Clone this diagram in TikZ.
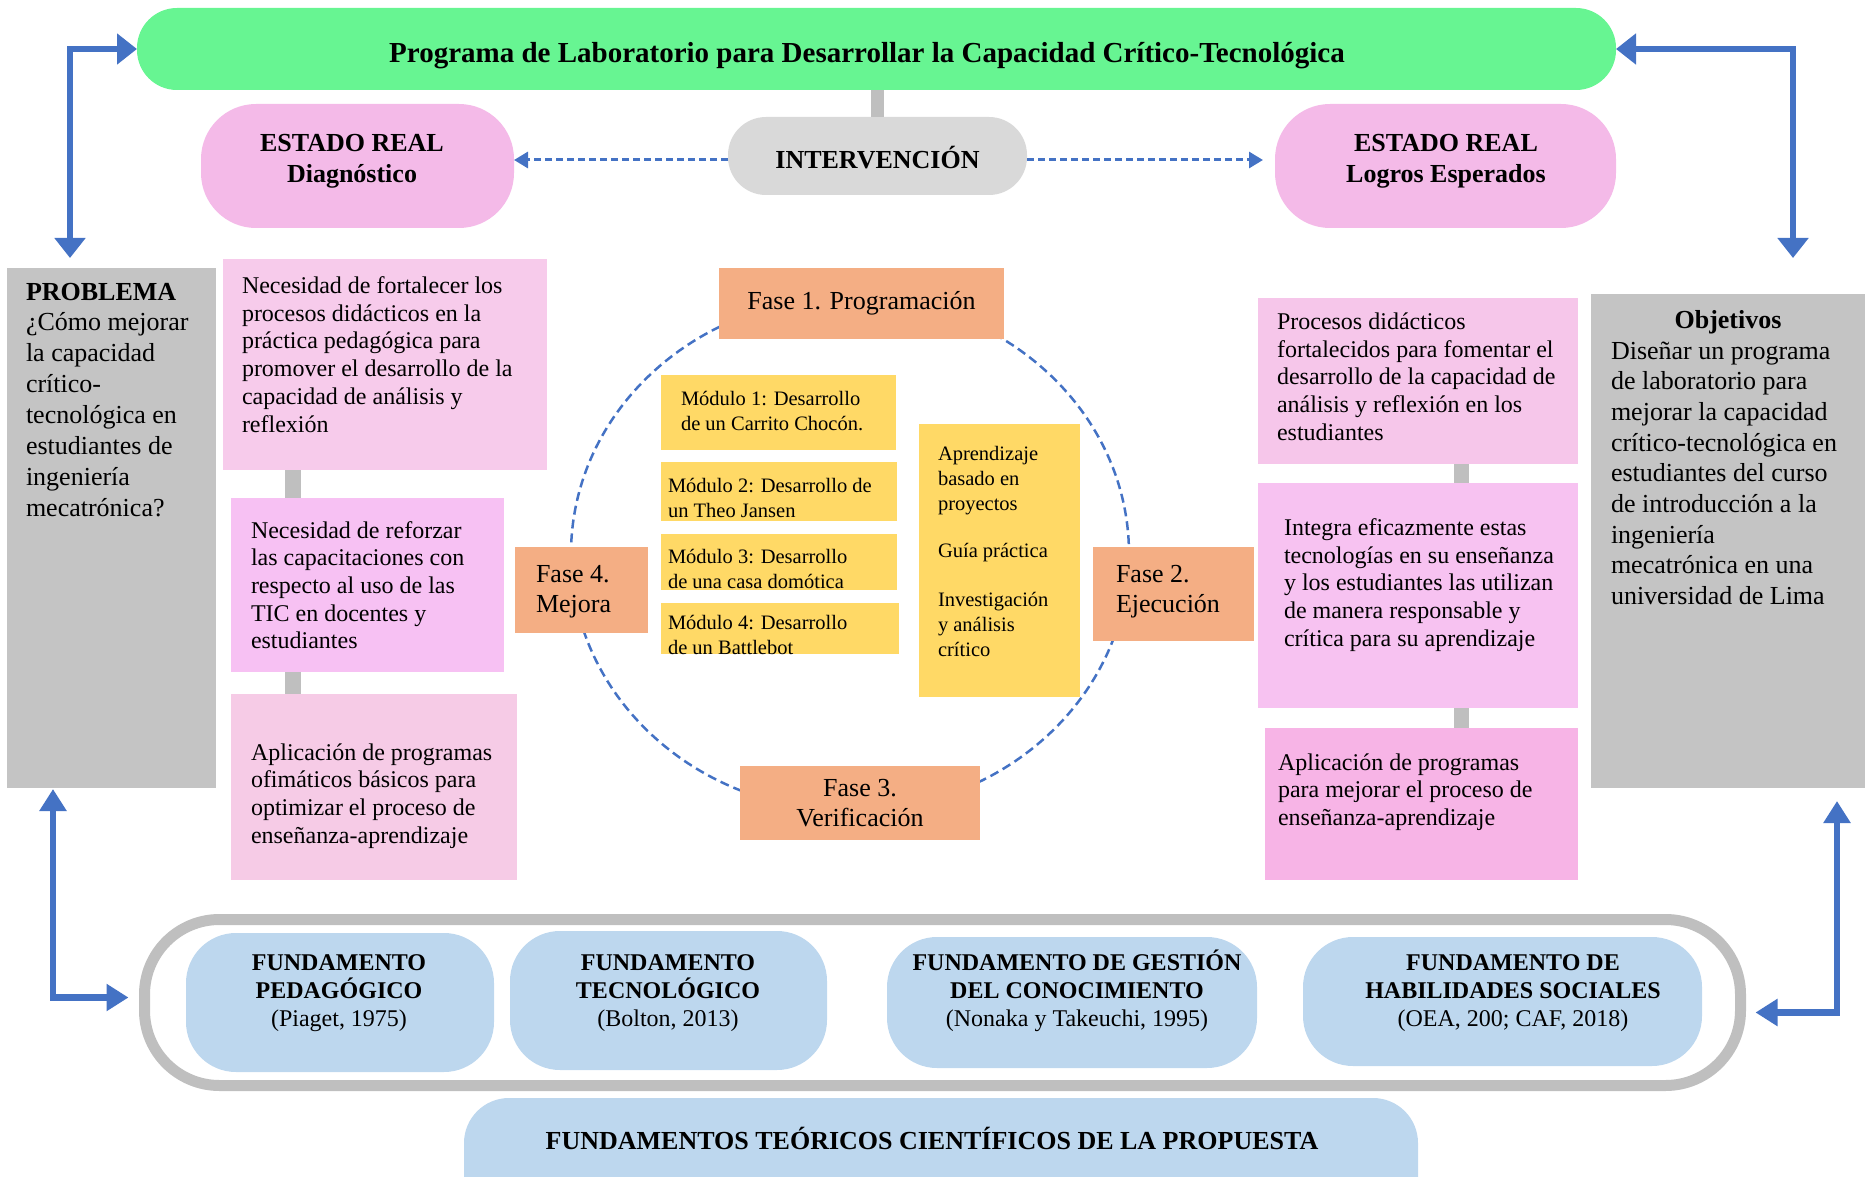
\documentclass[tikz,border=0pt]{standalone}
\usepackage{fontspec}
\setmainfont{Liberation Serif}
\usetikzlibrary{arrows.meta}
\definecolor{cgreen}{RGB}{103,245,146}
\definecolor{cpinktop}{RGB}{244,186,232}
\definecolor{cgrayi}{RGB}{217,217,217}
\definecolor{cgrayb}{RGB}{196,196,196}
\definecolor{cconn}{RGB}{191,191,191}
\definecolor{cla}{RGB}{247,203,235}
\definecolor{clb}{RGB}{247,193,243}
\definecolor{clc}{RGB}{246,203,230}
\definecolor{cra}{RGB}{246,198,234}
\definecolor{crb}{RGB}{247,194,241}
\definecolor{crc}{RGB}{247,180,230}
\definecolor{csalmon}{RGB}{244,174,132}
\definecolor{cyellow}{RGB}{255,217,102}
\definecolor{cbluef}{RGB}{189,215,238}
\definecolor{cbluea}{RGB}{68,114,196}
\begin{document}
\begin{tikzpicture}[x=1pt,y=-1pt,
  box/.style={inner sep=0pt, outer sep=0pt, draw=none},
  txt/.style={inner sep=0pt, outer sep=0pt, anchor=base west, align=left, font=\fontsize{24}{27.7}\selectfont},
  btxt/.style={inner sep=0pt, outer sep=0pt, anchor=base, align=center, font=\bfseries\fontsize{26}{30.5}\selectfont},
  ftxt/.style={inner sep=0pt, outer sep=0pt, anchor=base, align=center, font=\fontsize{24}{28}\selectfont},
  mtxt/.style={inner sep=0pt, outer sep=0pt, anchor=base west, align=left, font=\fontsize{20.5}{25}\selectfont},
  fase/.style={box, fill=csalmon, font=\fontsize{26}{30.5}\selectfont},
  fasetxt/.style={inner sep=0pt, outer sep=0pt, anchor=base west, align=left, font=\fontsize{26}{30.5}\selectfont},
  gconn/.style={draw=cconn},
  bigarr/.style={draw=cbluea, line width=6.5pt, {Triangle[width=30pt,length=20pt]}-{Triangle[width=30pt,length=20pt]}},
  bigarrb/.style={draw=cbluea, line width=6.5pt, {Triangle[width=26pt,length=22pt]}-{Triangle[width=26pt,length=22pt]}},
  dasharr/.style={draw=cbluea, line width=3pt, dash pattern=on 7pt off 4pt, -{Triangle[width=16pt,length=14pt]}},
  cyc/.style={draw=cbluea, line width=2.5pt, dash pattern=on 9pt off 5pt}
]
\useasboundingbox (0,0) rectangle (1874,1177);
\clip (0,0) rectangle (1874,1177);

% top row
\node[box, fill=cgreen, minimum width=1479pt, minimum height=82pt, rounded corners=40pt] (title) at (876.5,49) {};
\node[inner sep=0pt, anchor=base, font=\bfseries\fontsize{29}{33}\selectfont] (titletxt) at (867,63) {Programa de Laboratorio para Desarrollar la Capacidad Crítico-Tecnológica};

\node[box, fill=cgrayi, minimum width=299pt, minimum height=78pt, rounded corners=38pt] (inter) at (877.5,156) {};
\node[btxt] (intertxt) at (877.5,168.5) {INTERVENCIÓN};

\node[box, fill=cpinktop, minimum width=313pt, minimum height=124pt, rounded corners=55pt] (diag) at (357.5,166) {};
\node[btxt] (diagtxt) at (352,182.5) {ESTADO REAL\\Diagnóstico};

\node[box, fill=cpinktop, minimum width=341pt, minimum height=124pt, rounded corners=55pt] (logros) at (1445.5,166) {};
\node[btxt] (logrostxt) at (1446,182.5) {ESTADO REAL\\Logros Esperados};

\draw[gconn, line width=13pt] (title.south -| inter.north) -- (inter.north);
\draw[dasharr, transform canvas={yshift=-4pt}] (inter.west) -- (diag.east |- inter.west);
\draw[dasharr, shorten >=12pt, transform canvas={yshift=-4pt}] (inter.east) -- (logros.west |- inter.east);

% side boxes
\node[box, fill=cgrayb, minimum width=209pt, minimum height=520pt] (prob) at (111.5,528) {};
\node[txt, font=\fontsize{26}{30.9}\selectfont] (probtxt) at (26,516.3) {{\bfseries PROBLEMA}\\¿Cómo mejorar\\la capacidad\\crítico-\\tecnológica en\\estudiantes de\\ingeniería\\mecatrónica?};

\node[box, fill=cgrayb, minimum width=274pt, minimum height=494pt] (obj) at (1728,541) {};
\node[btxt] (objhead) at (1728,328) {Objetivos};
\node[txt, font=\fontsize{26}{30.7}\selectfont] (objtxt) at (1611,604.6) {Diseñar un programa\\de laboratorio para\\mejorar la capacidad\\crítico-tecnológica en\\estudiantes del curso\\de introducción a la\\ingeniería\\mecatrónica en una\\universidad de Lima};

% left pink boxes
\node[box, fill=cla, minimum width=324pt, minimum height=211pt] (la) at (385,364.5) {};
\node[box, fill=clb, minimum width=273pt, minimum height=174pt] (lb) at (367.5,585) {};
\node[box, fill=clc, minimum width=286pt, minimum height=186pt] (lc) at (374,787) {};
\coordinate (cl) at (293,0);
\draw[gconn, line width=16pt] (la.south -| cl) -- (lb.north -| cl);
\draw[gconn, line width=16pt] (lb.south -| cl) -- (lc.north -| cl);
\node[txt] (latxt) at (242,432) {Necesidad de fortalecer los\\procesos didácticos en la\\práctica pedagógica para\\promover el desarrollo de la\\capacidad de análisis y\\reflexión};
\node[txt] (lbtxt) at (251,648.8) {Necesidad de reforzar\\las capacitaciones con\\respecto al uso de las\\TIC en docentes y\\estudiantes};
\node[txt] (lctxt) at (251,843.1) {Aplicación de programas\\ofimáticos básicos para\\optimizar el proceso de\\enseñanza-aprendizaje};

% right pink boxes
\node[box, fill=cra, minimum width=320pt, minimum height=166pt] (ra) at (1418,381) {};
\node[box, fill=crb, minimum width=320pt, minimum height=225pt] (rb) at (1418,595.5) {};
\node[box, fill=crc, minimum width=313pt, minimum height=152pt] (rc) at (1421.5,804) {};
\coordinate (cr) at (1461.5,0);
\draw[gconn, line width=15pt] (ra.south -| cr) -- (rb.north -| cr);
\draw[gconn, line width=15pt] (rb.south -| cr) -- (rc.north -| cr);
\node[txt] (ratxt) at (1277,440.3) {Procesos didácticos\\fortalecidos para fomentar el\\desarrollo de la capacidad de\\análisis y reflexión en los\\estudiantes};
\node[txt] (rbtxt) at (1284,646.3) {Integra eficazmente estas\\tecnologías en su enseñanza\\y los estudiantes las utilizan\\de manera responsable y\\crítica para su aprendizaje};
\node[txt] (rctxt) at (1278,825.4) {Aplicación de programas\\para mejorar el proceso de\\enseñanza-aprendizaje};

% cycle
\draw[cyc] (850,554) ellipse [x radius=279, y radius=257];
\node[fase, minimum width=285pt, minimum height=71pt, align=center] (f1) at (861.5,303.5) {Fase 1. Programación};
\node[fase, minimum width=161pt, minimum height=94pt] (f2) at (1173.5,594) {};
\node[fasetxt] (f2txt) at (1116,612.5) {Fase 2.\\Ejecución};
\node[fase, minimum width=240pt, minimum height=74pt, align=center] (f3) at (860,803) {Fase 3.\\Verificación};
\node[fase, minimum width=133pt, minimum height=86pt] (f4) at (581.5,590) {};
\node[fasetxt] (f4txt) at (536,612.5) {Fase 4.\\Mejora};

\node[box, fill=cyellow, minimum width=235pt, minimum height=75pt] (m1) at (778.5,412.5) {};
\node[box, fill=cyellow, minimum width=236pt, minimum height=59pt] (m2) at (779,491.5) {};
\node[box, fill=cyellow, minimum width=236pt, minimum height=56pt] (m3) at (779,562) {};
\node[box, fill=cyellow, minimum width=238pt, minimum height=51pt] (m4) at (780,628.5) {};
\node[box, fill=cyellow, minimum width=161pt, minimum height=273pt] (m5) at (999.5,560.5) {};
\node[mtxt] (m1txt) at (681,430) {Módulo 1: Desarrollo\\de un Carrito Chocón.};
\node[mtxt] (m2txt) at (668,517) {Módulo 2: Desarrollo de\\un Theo Jansen};
\node[mtxt] (m3txt) at (668,588) {Módulo 3: Desarrollo\\de una casa domótica};
\node[mtxt] (m4txt) at (668,654) {Módulo 4: Desarrollo\\de un Battlebot};
\node[mtxt] (m5txt) at (938,656) {Aprendizaje\\basado en\\proyectos\\[22pt]Guía práctica\\[24pt]Investigación\\y análisis\\crítico};

% bottom
\node[box, draw=cconn, line width=11pt, minimum width=1596pt, minimum height=166pt, rounded corners=75pt] (base) at (942.5,1002.5) {};
\node[box, fill=cbluef, minimum width=308pt, minimum height=139pt, rounded corners=50pt] (fa) at (340,1002.5) {};
\node[box, fill=cbluef, minimum width=317pt, minimum height=139pt, rounded corners=50pt] (fb) at (668.5,1000.5) {};
\node[box, fill=cbluef, minimum width=370pt, minimum height=131pt, rounded corners=50pt] (fc) at (1072,1002.5) {};
\node[box, fill=cbluef, minimum width=399pt, minimum height=129pt, rounded corners=50pt] (fd) at (1502.5,1001.5) {};
\node[ftxt] (fatxt) at (339,1026) {\textbf{FUNDAMENTO}\\\textbf{PEDAGÓGICO}\\(Piaget, 1975)};
\node[ftxt] (fbtxt) at (668,1026) {\textbf{FUNDAMENTO}\\\textbf{TECNOLÓGICO}\\(Bolton, 2013)};
\node[ftxt] (fctxt) at (1077,1026) {\textbf{FUNDAMENTO DE GESTIÓN}\\\textbf{DEL CONOCIMIENTO}\\(Nonaka y Takeuchi, 1995)};
\node[ftxt] (fdtxt) at (1513,1026) {\textbf{FUNDAMENTO DE}\\\textbf{HABILIDADES SOCIALES}\\(OEA, 200; CAF, 2018)};

\node[box, fill=cbluef, minimum width=954pt, minimum height=140pt, rounded corners=45pt] (banner) at (941,1168) {};
\node[btxt] (bannertxt) at (932,1149) {FUNDAMENTOS TEÓRICOS CIENTÍFICOS DE LA PROPUESTA};

% blue elbow arrows
\coordinate (tl) at (70,258);
\coordinate (tr) at (1793,258);
\coordinate (bl) at (53,789);
\coordinate (br) at (1837,801);
\draw[bigarr] (tl) |- (title.west);
\draw[bigarr] (title.east) -| (tr);
\draw[bigarrb] (bl) |- ([xshift=-16pt,yshift=5pt]base.west);
\draw[bigarrb] (br) |- ([xshift=15pt,yshift=-10pt]base.east);
\end{tikzpicture}
\end{document}
